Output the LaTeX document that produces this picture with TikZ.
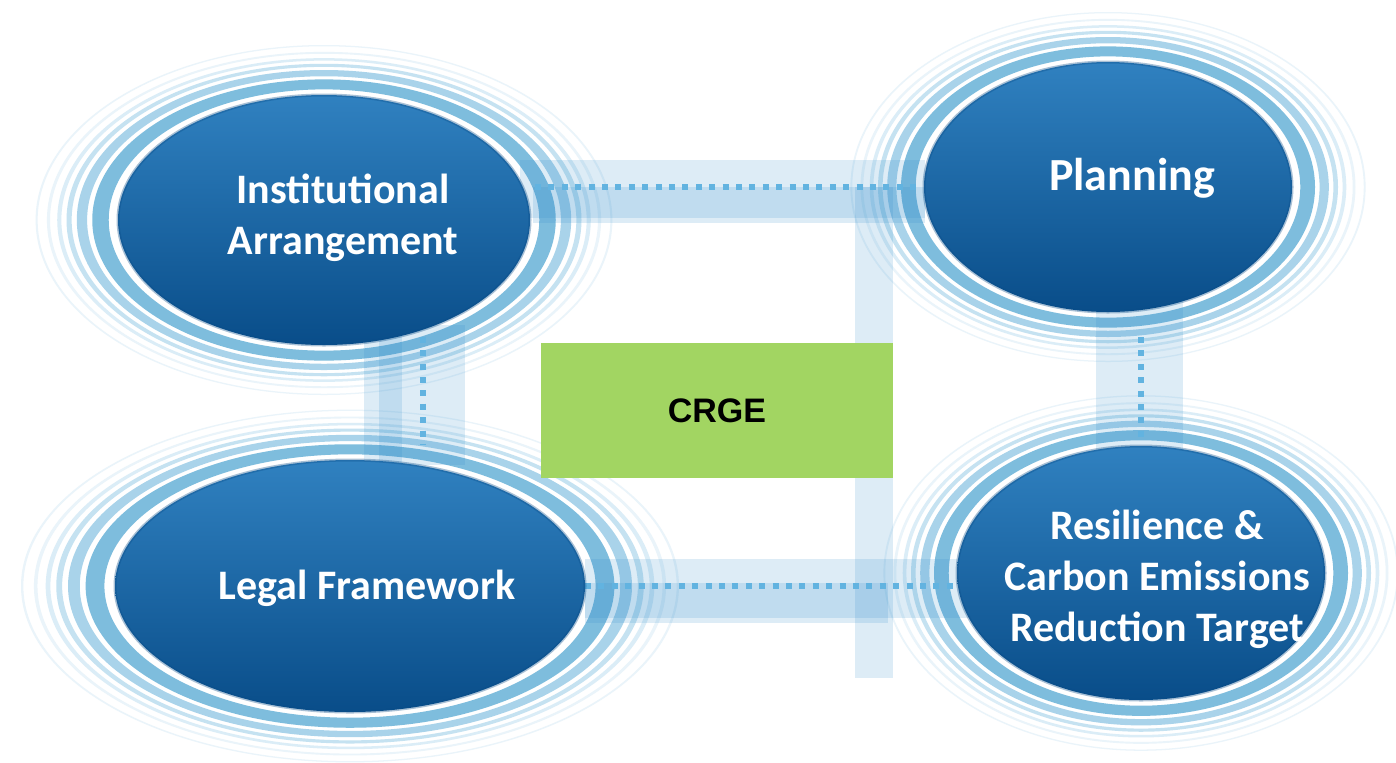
\documentclass[tikz,border=0pt]{standalone}
\usepackage{fontspec}
\setmainfont{Carlito}
\newfontfamily\crgefont{Liberation Sans}
\usetikzlibrary{shapes.geometric}
\pgfdeclarelayer{ringlayer}
\pgfdeclarelayer{barlayer}
\pgfsetlayers{ringlayer,barlayer,main}
\definecolor{coretop}{HTML}{3081C0}
\definecolor{coremid}{HTML}{2574B4}
\definecolor{corebot}{HTML}{094D89}
\definecolor{ringA}{HTML}{7EBDDD}
\definecolor{ringB}{HTML}{A9D3EA}
\definecolor{ringC}{HTML}{C5E2F1}
\definecolor{ringD}{HTML}{DBEDF7}
\definecolor{ringE}{HTML}{EAF4FA}
\definecolor{barblue}{HTML}{2E8BCB}
\definecolor{dotblue}{HTML}{62B3E0}
\definecolor{crgegreen}{HTML}{A2D562}
\newcommand{\myrings}[4]{%
  \foreach \sa/\sb/\rc in {1.045/1.125/ringA,1.15/1.20/ringB,1.225/1.25/ringC,1.275/1.295/ringD,1.33/1.345/ringE,1.39/1.40/ringE}{%
    \fill[\rc, even odd rule] (#1,#2) ellipse [x radius={#3*\sb*0.5pt}, y radius={#4*\sb*0.5pt}]
      (#1,#2) ellipse [x radius={#3*\sa*0.5pt}, y radius={#4*\sa*0.5pt}];
  }}
\tikzset{
  core/.style={ellipse, inner sep=0pt, outer sep=0pt, top color=coretop, middle color=coremid, bottom color=corebot, draw=corebot, draw opacity=0.35, line width=1.5pt},
  lbl/.style={text=white, align=center, font=\bfseries\fontsize{21}{25.5}\selectfont, inner sep=0pt},
  bar/.style={fill=barblue, fill opacity=0.16},
  dotline/.style={draw=dotblue, line width=3pt, dash pattern=on 3pt off 3.7pt},
}
\begin{document}
\begin{tikzpicture}[x=0.5pt,y=-0.5pt]
\useasboundingbox (0,0) rectangle (1396,762);
\clip (0,0) rectangle (1396,762);
% cores
\node[core, minimum width=206pt, minimum height=125pt] (ia) at (324,220) {};
\node[core, minimum width=184pt, minimum height=125pt] (pl) at (1108,187) {};
\node[core, minimum width=235pt, minimum height=126pt] (lf) at (350,586) {};
\node[core, minimum width=184pt, minimum height=127pt] (re) at (1141,573) {};
% labels
\node[lbl] (iat) at (343,218) {Institutional\\Arrangement};
\node[lbl, font=\bfseries\fontsize{23}{27}\selectfont] (plt) at (1132,178) {Planning};
\node[lbl] (lft) at (367,588) {Legal Framework};
\node[lbl] (ret) at (1157,579) {Resilience \&\\Carbon Emissions\\Reduction Target};
% centre box
\node[fill=crgegreen, minimum width=176pt, minimum height=67.5pt, inner sep=0pt,
      font=\crgefont\bfseries\fontsize{17}{20}\selectfont] (crge) at (717,410.5) {CRGE};
\begin{pgfonlayer}{ringlayer}
  \fill[white] (0,0) rectangle (1396,762);
  \myrings{324}{220}{206}{125}
  \myrings{1108}{187}{184}{125}
  \myrings{350}{586}{235}{126}
  \myrings{1141}{573}{184}{127}
\end{pgfonlayer}
\begin{pgfonlayer}{barlayer}
  \fill[bar] (520,160) rectangle (925,218);
  \fill[bar] (533,187) rectangle (925,223);
  \fill[bar] (855,187) rectangle (893,678);
  \fill[bar] (364,325) rectangle (402,465);
  \fill[bar] (379,325) rectangle (465,465);
  \fill[bar] (1096,300) rectangle (1183,450);
  \fill[bar] (585,559) rectangle (980,618);
  \fill[bar] (585,583) rectangle (888,623);
  \draw[dotline, shorten <=2.5pt] (ia.east |- pl.west) -- (pl.west);
  \draw[dotline] (lf.east) -- (lf.east -| re.west);
  \draw[dotline, shorten <=3.5pt, shorten >=7.5pt] (ia.-48.6) -- (ia.-48.6 |- lf.north);
  \draw[dotline, shorten <=12.5pt, shorten >=1.5pt] (re.north |- pl.south) -- (re.north);
\end{pgfonlayer}
\end{tikzpicture}
\end{document}
